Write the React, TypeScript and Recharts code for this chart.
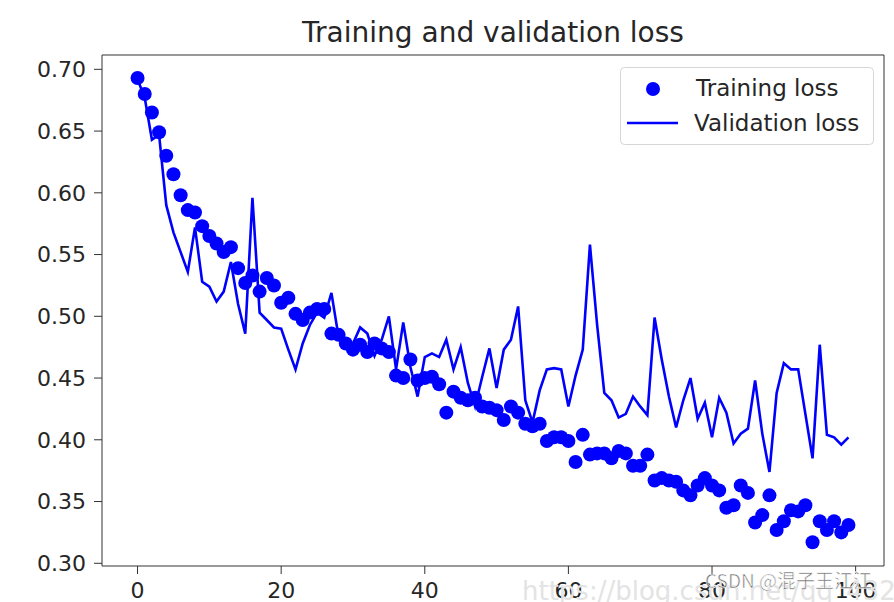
import React from "react";
import {
  ComposedChart,
  Line,
  Scatter,
  XAxis,
  YAxis,
  ReferenceLine,
} from "recharts";

const epochs = [
  0, 1, 2, 3, 4, 5, 6, 7, 8, 9, 10, 11, 12, 13, 14, 15, 16, 17, 18, 19,
  20, 21, 22, 23, 24, 25, 26, 27, 28, 29, 30, 31, 32, 33, 34, 35, 36, 37, 38, 39,
  40, 41, 42, 43, 44, 45, 46, 47, 48, 49, 50, 51, 52, 53, 54, 55, 56, 57, 58, 59,
  60, 61, 62, 63, 64, 65, 66, 67, 68, 69, 70, 71, 72, 73, 74, 75, 76, 77, 78, 79,
  80, 81, 82, 83, 84, 85, 86, 87, 88, 89, 90, 91, 92, 93, 94, 95, 96, 97, 98, 99,
];

const trainingLoss = [
  0.693, 0.680, 0.665, 0.649, 0.630, 0.615, 0.598, 0.586, 0.584, 0.573,
  0.565, 0.559, 0.552, 0.556, 0.539, 0.527, 0.533, 0.520, 0.531, 0.525,
  0.511, 0.515, 0.502, 0.497, 0.503, 0.506, 0.506, 0.486, 0.485, 0.478,
  0.473, 0.477, 0.471, 0.478, 0.474, 0.471, 0.452, 0.450, 0.465, 0.448,
  0.450, 0.451, 0.445, 0.422, 0.439, 0.434, 0.432, 0.434, 0.427, 0.426,
  0.424, 0.416, 0.427, 0.422, 0.413, 0.411, 0.413, 0.399, 0.402, 0.402,
  0.399, 0.382, 0.404, 0.388, 0.389, 0.389, 0.385, 0.391, 0.389, 0.379,
  0.379, 0.388, 0.367, 0.369, 0.367, 0.366, 0.359, 0.355, 0.363, 0.369,
  0.363, 0.359, 0.345, 0.347, 0.363, 0.357, 0.333, 0.339, 0.355, 0.327,
  0.334, 0.343, 0.342, 0.347, 0.317, 0.334, 0.327, 0.334, 0.325, 0.331,
];

const validationLoss = [
  0.692, 0.677, 0.643, 0.647, 0.590, 0.568, 0.552, 0.536, 0.572, 0.528,
  0.524, 0.512, 0.520, 0.544, 0.510, 0.486, 0.596, 0.503, 0.497, 0.491,
  0.490, 0.473, 0.457, 0.478, 0.493, 0.503, 0.499, 0.519, 0.483, 0.475,
  0.478, 0.491, 0.486, 0.468, 0.481, 0.500, 0.457, 0.495, 0.459, 0.435,
  0.467, 0.470, 0.467, 0.481, 0.457, 0.475, 0.446, 0.427, 0.451, 0.474,
  0.442, 0.473, 0.481, 0.508, 0.432, 0.414, 0.440, 0.457, 0.458, 0.457,
  0.427, 0.452, 0.473, 0.558, 0.493, 0.438, 0.432, 0.418, 0.421, 0.435,
  0.427, 0.420, 0.499, 0.465, 0.435, 0.410, 0.432, 0.450, 0.417, 0.430,
  0.402, 0.434, 0.422, 0.397, 0.405, 0.409, 0.448, 0.405, 0.374, 0.438,
  0.462, 0.457, 0.457, 0.421, 0.385, 0.477, 0.404, 0.402, 0.396, 0.402,
];

const xTicks = [0, 20, 40, 60, 80, 100];
const yTicks = [0.3, 0.35, 0.4, 0.45, 0.5, 0.55, 0.6, 0.65, 0.7];

const data = epochs.map((epoch, i) => ({
  epoch,
  train: trainingLoss[i],
  val: validationLoss[i],
}));

const FONT = "'DejaVu Sans', sans-serif";
const BLUE = "#0000ff";
const INK = "#262626";
const SPINE = "#333333";

const xDomain = [-4.95, 103.95];
const yDomain = [0.2978, 0.7116];

function Dot(props: any) {
  const { cx, cy } = props;
  return <circle cx={cx} cy={cy} r={7} fill={BLUE} />;
}

export default function App() {
  return (
    <div style={{ position: "absolute", left: 0, top: 0, width: 894, height: 602, background: "#fff" }}>
      <ComposedChart
        width={894}
        height={602}
        data={data}
        margin={{ top: 55, right: 10, bottom: 6, left: 22 }}
      >
        <XAxis
          dataKey="epoch"
          type="number"
          domain={xDomain}
          ticks={xTicks}
          allowDataOverflow
          height={30}
          tickSize={8}
          tickMargin={8}
          stroke={SPINE}
          tick={{ fill: INK, fontSize: 22, fontFamily: FONT }}
        />
        <YAxis
          type="number"
          domain={yDomain}
          ticks={yTicks}
          allowDataOverflow
          width={80}
          tickSize={8}
          tickMargin={8}
          stroke={SPINE}
          tickFormatter={(v: number) => v.toFixed(2)}
          tick={{ fill: INK, fontSize: 22, fontFamily: FONT }}
        />
        {/* top and right spines */}
        <ReferenceLine y={yDomain[1]} stroke={SPINE} strokeWidth={1} />
        <ReferenceLine x={xDomain[1]} stroke={SPINE} strokeWidth={1} />
        <Scatter dataKey="train" fill={BLUE} shape={Dot} isAnimationActive={false} />
        <Line
          dataKey="val"
          type="linear"
          stroke={BLUE}
          strokeWidth={2.6}
          dot={false}
          activeDot={false}
          isAnimationActive={false}
        />
      </ComposedChart>

      <svg
        width={894}
        height={602}
        style={{ position: "absolute", left: 0, top: 0, pointerEvents: "none" }}
      >
        <text x={493} y={42} textAnchor="middle" fontSize={28} fontFamily={FONT} fill={INK}>
          Training and validation loss
        </text>

        {/* legend */}
        <rect x={620.5} y={67.5} width={253} height={77} rx={4} fill="rgba(255,255,255,0.8)" stroke="#d6d6d6" />
        <circle cx={653} cy={89} r={7} fill={BLUE} />
        <line x1={627} y1={123} x2={678} y2={123} stroke={BLUE} strokeWidth={2.6} />
        <text x={696} y={96} fontSize={23} fontFamily={FONT} fill={INK}>
          Training loss
        </text>
        <text x={694} y={131} fontSize={23} fontFamily={FONT} fill={INK}>
          Validation loss
        </text>

        {/* watermarks */}
        <text x={522} y={600} fontSize={26} fontFamily={FONT} fill="#e3e3e3">
          https://blog.csdn.net/qq_43278189
        </text>
        <text
          x={705}
          y={588}
          fontSize={19}
          fontFamily="'Noto Sans CJK SC', 'Noto Sans', sans-serif"
          fill="#707070"
          stroke="#fff"
          strokeWidth={0.6}
        >
          CSDN @混子王江江
        </text>
      </svg>
    </div>
  );
}
